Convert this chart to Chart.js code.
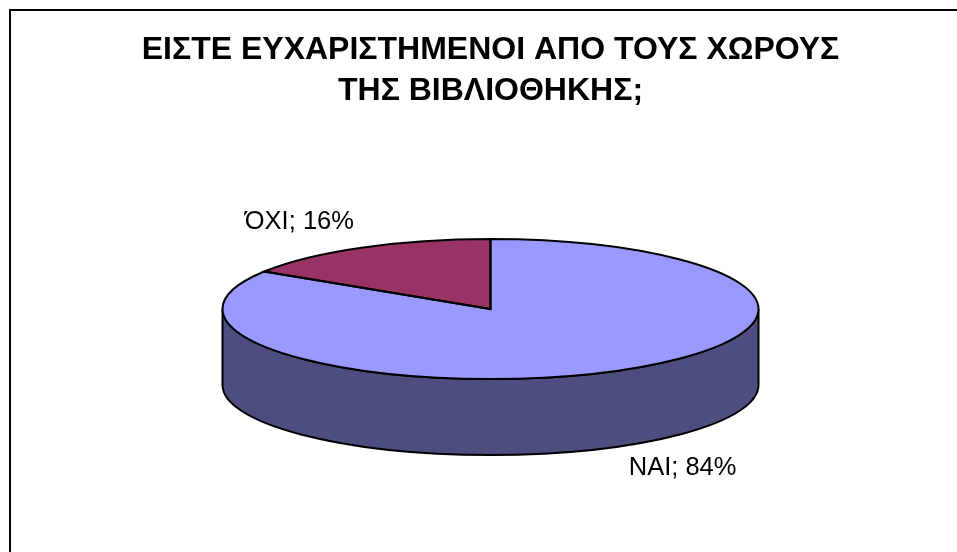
<!DOCTYPE html>
<html>
<head>
<meta charset="utf-8">
<style>
html, body { margin: 0; padding: 0; background: #fff; overflow: hidden; }
#frame { position: absolute; left: 9px; top: 9px; width: 948px; height: 543px; border-left: 2px solid #000; border-top: 2px solid #000; box-sizing: border-box; }
#wrap { position: absolute; left: 0; top: 0; width: 957px; height: 552px; }
</style>
<script src="https://cdn.jsdelivr.net/npm/chart.js@4"></script>
</head>
<body>
<div id="wrap"><canvas id="pie" width="957" height="552"></canvas></div>
<div id="frame"></div>
<script>
const categories = ["ΝΑΙ", "ΌΧΙ"];
const percents = [84, 16];
const sliceColors = ["#9999FF", "#993366"];
const sideColors = ["#4D4D80", "#4D1A33"];
const titleLines = ["ΕΙΣΤΕ ΕΥΧΑΡΙΣΤΗΜΕΝΟΙ ΑΠΟ ΤΟΥΣ ΧΩΡΟΥΣ", "ΤΗΣ ΒΙΒΛΙΟΘΗΚΗΣ;"];

// tilt of the pie: arcs are drawn squashed, with a side wall below them
const radiusX = 268;
const radiusY = 70;
const depth = 76;
const labelShift = [[63, 22], [-62, -26]];

function squash(ctx, arc) {
    ctx.translate(arc.x, arc.y);
    ctx.scale(1, radiusY / radiusX);
    ctx.translate(-arc.x, -arc.y);
}

const tiltPlugin = {
    id: "tilt",
    beforeDatasetsDraw(chart) {
        const ctx = chart.ctx;
        chart.getDatasetMeta(0).data.forEach((arc, i) => {
            // only the front half of the rim is visible
            const from = Math.max(arc.startAngle, 0);
            const to = Math.min(arc.endAngle, Math.PI);
            if (to > from) {
                ctx.save();
                ctx.beginPath();
                squash(ctx, arc);
                ctx.arc(arc.x, arc.y, arc.outerRadius, from, to);
                ctx.translate(0, depth * radiusX / radiusY);
                ctx.arc(arc.x, arc.y, arc.outerRadius, to, from, true);
                ctx.closePath();
                ctx.restore();
                ctx.fillStyle = sideColors[i];
                ctx.strokeStyle = "#000";
                ctx.lineWidth = 2;
                ctx.fill();
                ctx.stroke();
            }
        });
        ctx.save();
        squash(ctx, chart.getDatasetMeta(0).data[0]);
    },
    afterDatasetsDraw(chart) {
        const ctx = chart.ctx;
        ctx.restore();
        chart.getDatasetMeta(0).data.forEach((arc) => {
            ctx.save();
            ctx.beginPath();
            squash(ctx, arc);
            ctx.moveTo(arc.x, arc.y);
            ctx.arc(arc.x, arc.y, arc.outerRadius, arc.startAngle, arc.endAngle);
            ctx.closePath();
            ctx.restore();
            ctx.strokeStyle = "#000";
            ctx.lineWidth = 2;
            ctx.stroke();
        });
        ctx.save();
        ctx.font = "25.5px 'Liberation Sans'";
        ctx.fillStyle = "#000";
        ctx.textAlign = "center";
        ctx.textBaseline = "middle";
        chart.getDatasetMeta(0).data.forEach((arc, i) => {
            const mid = (arc.startAngle + arc.endAngle) / 2;
            const rimX = arc.x + Math.cos(mid) * radiusX;
            const rimY = arc.y + Math.sin(mid) * radiusY + (Math.sin(mid) > 0 ? depth : 0);
            ctx.fillText(categories[i] + "; " + percents[i] + "%", rimX + labelShift[i][0], rimY + labelShift[i][1]);
        });
        ctx.restore();
    },
};

new Chart(document.getElementById("pie"), {
    type: "pie",
    data: {
        labels: categories,
        datasets: [{
            data: percents,
            backgroundColor: sliceColors,
            borderWidth: 0,
        }],
    },
    options: {
        responsive: false,
        animation: false,
        radius: radiusX,
        layout: { padding: { left: 24, right: 0, top: 0, bottom: 67 } },
        plugins: {
            legend: { display: false },
            tooltip: { enabled: false },
            title: {
                display: true,
                text: titleLines,
                color: "#000",
                font: { family: "'Liberation Sans'", size: 32, weight: "bold", lineHeight: 1.3 },
                padding: { top: 29, bottom: 20.8 },
            },
        },
    },
    plugins: [tiltPlugin],
});
</script>
</body>
</html>
